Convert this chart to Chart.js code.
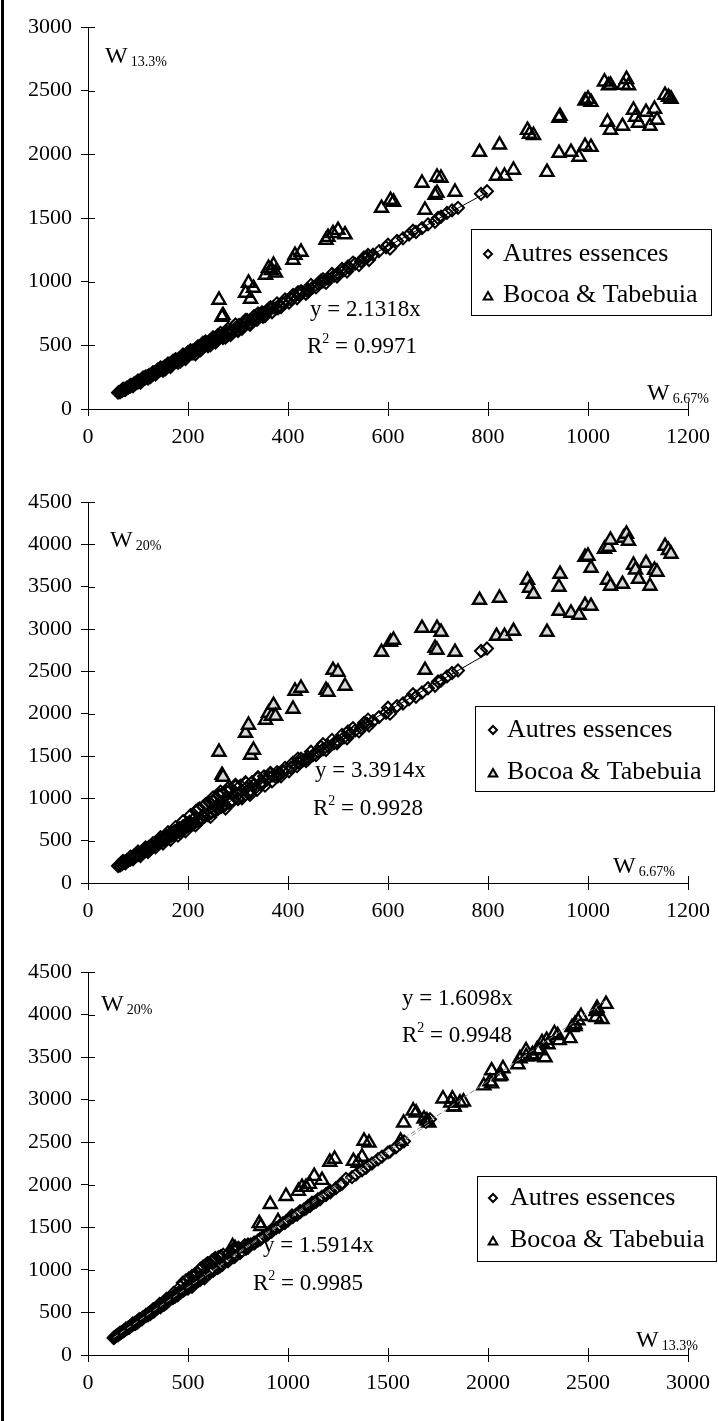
<!DOCTYPE html>
<html><head><meta charset="utf-8">
<script src="https://cdn.jsdelivr.net/npm/chart.js@4.4.1/dist/chart.umd.min.js"></script>
<style>
html,body{margin:0;padding:0;background:#fff;}
#wrap{position:relative;width:718px;height:1421px;overflow:hidden;}
#border{position:absolute;left:1px;top:0;width:3px;height:1421px;background:#000;}
.c{position:absolute;left:0;width:718px;}
canvas{display:block;}
</style></head><body>
<div id="wrap">
<div class="c" style="top:0;height:470px"><canvas id="c1" width="718" height="470"></canvas></div>
<div class="c" style="top:470px;height:475px"><canvas id="c2" width="718" height="475"></canvas></div>
<div class="c" style="top:945px;height:476px"><canvas id="c3" width="718" height="476"></canvas></div>
<div id="border"></div>
</div>
<script>
// ---------- DATA ----------
// "Autres essences" (diamonds): W6.67%, W13.3%, W20%
const autresW667 = [
 60,62,64,66,68,70,72,74,76,78,
 80,83,85,88,90,92,95,97,100,102,
 105,108,110,112,115,118,120,122,125,128,
 130,133,135,138,140,143,145,148,150,153,
 155,158,160,163,165,168,170,173,175,178,
 180,183,186,190,193,196,200,203,206,210,
 213,216,220,223,226,230,233,236,240,243,
 246,250,253,256,260,263,266,270,274,278,
 282,286,290,295,300,305,310,316,322,328,
 334,340,346,352,358,364,370,376,382,390,
 398,406,414,422,430,440,450,460,470,480,
 492,500,512,522,534,546,558,570,582,596,
 604,618,630,642,656,668,680,694,706,718,
 728,740,786,798,
 70,75,85,90,100,105,115,120,130,135,
 145,150,160,165,175,180,190,195,205,210,
 220,225,235,240,250,255,265,270,280,285,
 295,300,315,325,340,350,365,380,420,440,
 470,520,560,600,650,700,
 302,308,318,324,332,338,348,354,362,368,
 378,386,394,402,410,418,426,436,446,456,
 466,476,488,498,508,518,530,542,552,562,
 110,125,140,155,170,185,200,215,230,245,
 260,275];
const autresW133 = [
 128,134,131,142,140,152,150,160,158,170,
 166,180,176,190,186,200,198,212,208,222,
 218,234,230,244,240,256,250,268,262,276,
 272,290,284,300,294,312,306,322,316,334,
 326,344,338,356,348,366,360,378,370,388,
 382,400,394,414,406,428,424,446,436,460,
 450,474,466,490,478,504,494,520,508,534,
 522,548,536,562,552,576,566,590,580,606,
 596,620,612,636,626,652,648,676,672,702,
 708,724,736,752,770,784,796,790,814,830,
 850,862,886,900,918,940,956,984,1000,1024,
 1046,1062,1090,1110,1140,1160,1190,1212,1240,1270,
 1260,1320,1340,1370,1390,1420,1450,1470,1510,1540,
 1560,1580,1690,1710,
 160,150,190,178,224,206,256,238,290,270,
 326,300,358,330,392,362,428,392,462,436,
 494,460,530,492,564,522,598,556,630,580,
 664,612,700,680,750,724,800,790,918,920,
 1020,1120,1210,1290,1400,1500,
 660,630,700,660,730,700,760,730,790,760,
 830,800,860,835,895,870,925,905,975,955,
 1010,990,1060,1040,1100,1080,1150,1130,1190,1170,
 248,250,312,312,380,372,448,430,520,500,
 582,560];
const autresW20 = [
 200,212,206,228,221,246,238,255,250,272,
 262,290,278,304,296,322,312,340,330,356,
 344,376,362,392,378,412,396,430,414,446,
 430,470,450,486,464,505,484,522,500,540,
 516,556,534,576,552,594,570,612,586,628,
 604,648,622,672,642,696,670,724,690,748,
 712,850,738,880,756,900,782,930,804,950,
 828,960,850,1010,874,1040,896,1060,920,1080,
 944,1110,970,1140,990,1150,1020,1180,1060,1190,
 1120,1240,1160,1260,1220,1290,1270,1250,1300,1320,
 1345,1360,1400,1420,1450,1490,1510,1550,1580,1620,
 1650,1680,1720,1750,1800,1830,1880,1910,1960,2010,
 2000,2090,2120,2170,2200,2250,2300,2330,2390,2440,
 2480,2510,2740,2770,
 262,232,312,280,372,318,420,366,470,420,
 540,466,600,510,660,560,730,610,800,690,
 870,740,930,800,1010,860,1080,910,1120,960,
 1160,1000,1190,1100,1250,1180,1300,1260,1470,1460,
 1640,1790,1930,2070,2230,2380,
 1060,1000,1130,1040,1160,1100,1200,1150,1250,1200,
 1310,1260,1360,1320,1420,1380,1470,1440,1550,1510,
 1610,1570,1690,1650,1750,1710,1830,1790,1890,1860,
 380,400,480,500,590,590,700,680,800,780,
 900,880];
// "Bocoa & Tabebuia" (triangles): W6.67%, W13.3%, W20%
const bocoaW667 = [
 262,268,270,315,321,325,331,355,361,367,
 371,375,410,414,426,476,480,490,500,514,
 587,605,611,668,674,694,698,698,706,734,
 783,823,879,883,891,944,942,994,1000,1006,
 1033,1041,1045,1071,1077,1081,1154,1161,1166,
 817,833,851,918,942,966,982,994,1006,
 1039,1045,1069,1091,1095,1101,1116,1124,1133,1138];
const bocoaW133 = [
 856,723,735,911,990,864,950,1052,1107,1090,
 1131,1070,1170,1209,1233,1327,1350,1380,1405,1370,
 1578,1641,1626,1775,1563,1680,1695,1822,1814,1704,
 2018,2075,2190,2160,2150,2300,2285,2420,2435,2410,
 2570,2540,2545,2545,2590,2540,2465,2450,2435,
 1830,1830,1877,1860,2010,2018,1979,2065,2057,
 2254,2191,2222,2348,2293,2246,2332,2222,2356,2270];
const bocoaW20 = [
 1547,1275,1252,1771,1866,1512,1571,1925,2008,1972,
 2102,1972,2055,2268,2303,2279,2256,2515,2492,2327,
 2728,2846,2870,3011,2515,2775,2752,3011,2964,2728,
 3342,3366,3578,3484,3413,3649,3496,3850,3862,3720,
 3945,3968,4051,4075,4122,4039,3980,3930,3886,
 2917,2917,2976,2964,3212,3189,3165,3283,3271,
 3578,3508,3531,3756,3700,3590,3779,3508,3697,3673];
// tick values
const xTicksW667 = [0,200,400,600,800,1000,1200];
const yTicksW133 = [0,500,1000,1500,2000,2500,3000];
const yTicksW20 = [0,500,1000,1500,2000,2500,3000,3500,4000,4500];
const xTicksW133 = [0,500,1000,1500,2000,2500,3000];
// regression slopes and labels
const slope1 = 2.1318, r2_1 = '0.9971';
const slope2 = 3.3914, r2_2 = '0.9928';
const slope3Bocoa = 1.6098, r2_3Bocoa = '0.9948';
const slope3Autres = 1.5914, r2_3Autres = '0.9985';
const seriesNames = ['Autres essences', 'Bocoa & Tabebuia'];

// ---------- HELPERS ----------
const SERIF = "'Liberation Serif','Times New Roman',serif";
const NOFILL = 'rgba(255,255,255,0)';
const pts = (xs, ys) => xs.map((x, i) => ({x: x, y: ys[i]}));
const trend = (xs, k) => {
  const lo = Math.min(...xs), hi = Math.max(...xs);
  return [{x: lo, y: k * lo}, {x: hi, y: k * hi}];
};

function drawParts(ctx, x, y, parts) {
  let cx = x;
  parts.forEach(p => {
    ctx.font = p.size + 'px ' + SERIF;
    ctx.fillText(p.t, cx + (p.dx || 0), y + (p.dy || 0));
    cx += ctx.measureText(p.t).width + (p.dx || 0);
  });
}

const crossTicks = {
  id: 'crossTicks',
  beforeDatasetsDraw(chart) {
    const {ctx, chartArea: a, scales: {x, y}} = chart;
    ctx.save();
    ctx.strokeStyle = '#000'; ctx.lineWidth = 1;
    ctx.beginPath();
    x.ticks.forEach(t => {
      const px = Math.round(x.getPixelForValue(t.value)) + 0.5;
      ctx.moveTo(px, a.bottom); ctx.lineTo(px, a.bottom - 7);
    });
    y.ticks.forEach(t => {
      const py = Math.round(y.getPixelForValue(t.value)) + 0.5;
      ctx.moveTo(a.left, py); ctx.lineTo(a.left + 7, py);
    });
    ctx.stroke();
    ctx.restore();
  }
};

const notesPlugin = {
  id: 'notes',
  afterDraw(chart, args, opts) {
    const ctx = chart.ctx;
    ctx.save();
    ctx.fillStyle = '#000';
    ctx.textBaseline = 'alphabetic';
    ctx.textAlign = 'left';
    (opts.items || []).forEach(it => drawParts(ctx, it.x, it.y, it.parts));
    ctx.restore();
  }
};

const boxLegend = {
  id: 'boxLegend',
  afterDraw(chart, args, o) {
    if (!o.box) return;
    const ctx = chart.ctx;
    ctx.save();
    const [l, t, r, b] = o.box;
    ctx.fillStyle = '#fff';
    ctx.fillRect(l, t, r - l, b - t);
    ctx.strokeStyle = '#000'; ctx.lineWidth = 1;
    ctx.strokeRect(l + 0.5, t + 0.5, r - l, b - t);
    const entries = chart.data.datasets.filter(d => d.inLegend);
    entries.forEach((d, i) => {
      const yb = o.rows[i];
      ctx.fillStyle = d.pointBackgroundColor;
      ctx.strokeStyle = d.pointBorderColor;
      ctx.lineWidth = 2;
      const isTri = d.pointStyle === 'triangle';
      Chart.helpers.drawPoint(ctx, {pointStyle: d.pointStyle, radius: isTri ? 5 : 4, borderWidth: 2, rotation: 0},
        o.markerX, yb - (isTri ? 5 : 7));
      ctx.fillStyle = '#000';
      ctx.font = '26px ' + SERIF;
      ctx.textBaseline = 'alphabetic';
      ctx.fillText(d.label, o.textX, yb);
    });
    ctx.restore();
  }
};

function W(x, y, sub) {
  return {x: x, y: y, parts: [{t: 'W', size: 24}, {t: sub, size: 14, dx: 3, dy: 3}]};
}
function eqY(x, y, k) {
  return {x: x, y: y, parts: [{t: 'y = ' + k + 'x', size: 23}]};
}
function eqR(x, y, r) {
  return {x: x, y: y, parts: [{t: 'R', size: 23}, {t: '2', size: 14, dy: -10}, {t: ' = ' + r, size: 23}]};
}

function axis(min, max, tickVals, sizeFn) {
  return {
    type: 'linear', min: min, max: max,
    afterBuildTicks(s) { s.ticks = tickVals.map(v => ({value: v})); },
    afterFit: sizeFn,
    ticks: {color: '#000', font: {family: SERIF, size: 22}, autoSkip: false, maxRotation: 0,
            callback: v => String(v)},
    grid: {display: true, drawOnChartArea: false, drawTicks: true, tickLength: 7, color: '#000', lineWidth: 1},
    border: {display: true, color: '#000', width: 1}
  };
}

function makeChart(id, c) {
  const xa = axis(0, c.xMax, c.xTicks, s => { s.height = c.xH; });
  xa.ticks.padding = 8;
  const ya = axis(0, c.yMax, c.yTicks, s => { s.width = 88; });
  ya.ticks.padding = 9;
  return new Chart(document.getElementById(id), {
    type: 'scatter',
    data: {datasets: c.datasets},
    options: {
      responsive: false, animation: false, devicePixelRatio: 1,
      layout: {padding: {top: c.padTop, right: 25, left: 0, bottom: 0}},
      plugins: {legend: {display: false}, tooltip: {enabled: false},
                notes: {items: c.notes}, boxLegend: c.legend},
      scales: {x: xa, y: ya}
    },
    plugins: [crossTicks, notesPlugin, boxLegend]
  });
}

function diamonds(data) {
  return {label: seriesNames[0], inLegend: true, data: data, showLine: false, order: 2,
    pointStyle: 'rectRot', pointRadius: 6, pointBorderWidth: 2,
    pointBackgroundColor: NOFILL, pointBorderColor: '#000'};
}
function triangles(data, fill) {
  return {label: seriesNames[1], inLegend: true, data: data, showLine: false, order: 1,
    pointStyle: 'triangle', pointRadius: 7.5, pointBorderWidth: 2.4,
    pointBackgroundColor: fill, pointBorderColor: '#000'};
}
function line(data, color, dash) {
  return {data: data, showLine: true, pointRadius: 0, borderColor: color, borderWidth: 1,
    borderDash: dash || [], order: 0, fill: false};
}

// ---------- CHART 1 : W13.3% vs W6.67% ----------
makeChart('c1', {
  xMax: 1200, yMax: 3000, xTicks: xTicksW667, yTicks: yTicksW133, xH: 61, padTop: 27,
  datasets: [
    line(trend(autresW667, slope1), '#000'),
    diamonds(pts(autresW667, autresW133)),
    triangles(pts(bocoaW667, bocoaW133), NOFILL)
  ],
  notes: [W(105, 63, '13.3%'), W(647, 400, '6.67%'), eqY(310, 316, slope1), eqR(307, 353, r2_1)],
  legend: {box: [471, 229, 711, 315], markerX: 488, textX: 503, rows: [261, 302]}
});

// ---------- CHART 2 : W20% vs W6.67% ----------
makeChart('c2', {
  xMax: 1200, yMax: 4500, xTicks: xTicksW667, yTicks: yTicksW20, xH: 62, padTop: 32,
  datasets: [
    line(trend(autresW667, slope2), '#000'),
    diamonds(pts(autresW667, autresW20)),
    triangles(pts(bocoaW667, bocoaW20), '#d9d9d9')
  ],
  notes: [W(110, 77, '20%'), W(613, 403, '6.67%'), eqY(315, 307, slope2), eqR(313, 345, r2_2)],
  legend: {box: [475, 236, 714, 321], markerX: 493, textX: 507, rows: [267, 309]}
});

// ---------- CHART 3 : W20% vs W13.3% ----------
makeChart('c3', {
  xMax: 3000, yMax: 4500, xTicks: xTicksW133, yTicks: yTicksW20, xH: 66, padTop: 27,
  datasets: [
    line(trend(bocoaW133, slope3Bocoa), '#808080', [5, 3]),
    line(trend(autresW133, slope3Autres), '#a0a0a0', [5, 3]),
    diamonds(pts(autresW133, autresW20)),
    triangles(pts(bocoaW133, bocoaW20), NOFILL)
  ],
  notes: [W(101, 66, '20%'), W(636, 402, '13.3%'),
          eqY(402, 60, slope3Bocoa), eqR(402, 97, r2_3Bocoa),
          eqY(263, 307, slope3Autres), eqR(253, 345, r2_3Autres)],
  legend: {box: [477, 231, 716, 316], markerX: 493, textX: 510, rows: [260, 302]}
});
</script>
</body></html>
